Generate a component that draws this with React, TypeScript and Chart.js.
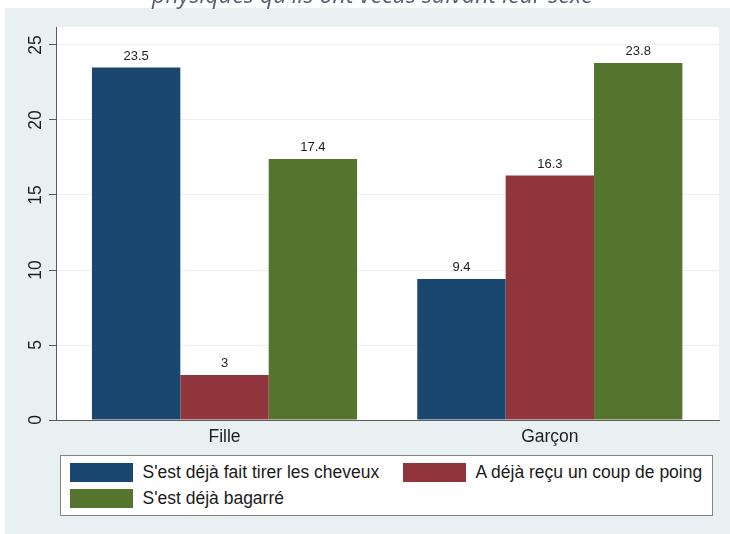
import React, { useEffect, useRef } from "react";
import { Chart, registerables } from "chart.js";

Chart.register(...registerables);

// ---- data ----
const categories = ["Fille", "Garçon"];
const seriesNames = [
  "S'est déjà fait tirer les cheveux",
  "A déjà reçu un coup de poing",
  "S'est déjà bagarré",
];
const cheveux = [23.5, 9.4];
const poing = [3, 16.3];
const bagarre = [17.4, 23.8];
const seriesColors = ["#1a476f", "#90353b", "#55752f"];
const yTicks = [0, 5, 10, 15, 20, 25];
const titleText = "physiques qu'ils ont vécus suivant leur sexe";

const seriesValues = [cheveux, poing, bagarre];
const FONT = '"Liberation Sans", Arial, sans-serif';

const decorPlugin = {
  id: "stataDecor",
  beforeDraw(chart: any) {
    const { ctx, chartArea: a } = chart;
    ctx.save();
    ctx.fillStyle = "#ffffff";
    ctx.fillRect(a.left, a.top, a.right - a.left, a.bottom - a.top);
    ctx.restore();
  },
  afterDatasetsDraw(chart: any) {
    const { ctx } = chart;
    ctx.save();
    ctx.font = `13px ${FONT}`;
    ctx.fillStyle = "#1e1e1e";
    ctx.textAlign = "center";
    ctx.textBaseline = "alphabetic";
    chart.data.datasets.forEach((ds: any, di: number) => {
      const meta = chart.getDatasetMeta(di);
      meta.data.forEach((el: any, i: number) => {
        const v = ds.data[i].y;
        ctx.fillText(String(v), el.x, el.y - 8);
      });
    });
    ctx.restore();
  },
  afterDraw(chart: any) {
    const { ctx, chartArea: a } = chart;
    const y = chart.scales.y;
    const x = chart.scales.x;
    ctx.save();
    // y tick labels, rotated
    ctx.font = `17.5px ${FONT}`;
    ctx.fillStyle = "#1e1e1e";
    ctx.textAlign = "center";
    ctx.textBaseline = "middle";
    y.ticks.forEach((t: any) => {
      const py = y.getPixelForValue(t.value);
      ctx.save();
      ctx.translate(35, py);
      ctx.rotate(-Math.PI / 2);
      ctx.fillText(String(t.value), 0, 1);
      ctx.restore();
    });
    // x category labels
    ctx.textBaseline = "alphabetic";
    categories.forEach((c, i) => {
      ctx.fillText(c, x.getPixelForValue(i), a.bottom + 22);
    });
    // cut title
    ctx.font = `italic 20px "Open Sans", sans-serif`;
    const w = ctx.measureText(titleText).width;
    const size = (20 * 441) / w;
    ctx.font = `italic ${size}px "Open Sans", sans-serif`;
    ctx.fillStyle = "#55606e";
    ctx.textAlign = "left";
    ctx.fillText(titleText, 152, 3);
    ctx.restore();
  },
};

export default function App() {
  const ref = useRef<HTMLCanvasElement>(null);

  useEffect(() => {
    if (!ref.current) return;
    const chart = new Chart(ref.current, {
      type: "bar",
      data: {
        datasets: seriesNames.map((name, si) => ({
          label: name,
          data: categories.map((_, ci) => ({ x: ci, y: seriesValues[si][ci] })),
          backgroundColor: seriesColors[si],
          borderWidth: 0,
          categoryPercentage: 0.815,
          barPercentage: 1,
        })),
      },
      options: {
        responsive: false,
        devicePixelRatio: 1,
        animation: false,
        layout: { padding: { left: 0, top: 27, right: 11, bottom: 0 } },
        plugins: {
          legend: { display: false },
          tooltip: { enabled: false },
          title: { display: false },
        },
        scales: {
          x: {
            type: "linear",
            offset: false,
            min: -0.518,
            max: 1.52,
            afterBuildTicks: (s: any) => {
              s.ticks = categories.map((_, i) => ({ value: i }));
            },
            afterFit: (s: any) => {
              s.height = 30;
            },
            ticks: { display: false },
            grid: { display: false, offset: false },
            border: { display: true, color: "#5a5a5a", width: 1 },
          },
          y: {
            min: 0,
            max: 26.2,
            afterBuildTicks: (s: any) => {
              s.ticks = yTicks.map((v) => ({ value: v }));
            },
            afterFit: (s: any) => {
              s.width = 56;
            },
            ticks: { display: false },
            grid: {
              color: "#eaf0f2",
              lineWidth: 1,
              drawTicks: true,
              tickLength: 7,
              tickColor: "#5a5a5a",
              tickWidth: 1,
            },
            border: { display: true, color: "#5a5a5a", width: 1 },
          },
        },
      } as any,
      plugins: [decorPlugin],
    });
    return () => chart.destroy();
  }, []);

  return (
    <div
      style={{
        position: "fixed",
        left: 0,
        top: 0,
        width: 730,
        height: 534,
        background: "#ffffff",
        overflow: "hidden",
      }}
    >
      <div
        style={{
          position: "absolute",
          left: 5,
          top: 8,
          right: 0,
          bottom: 0,
          background: "#e9f0f2",
        }}
      />
      <canvas
        ref={ref}
        width={730}
        height={450}
        style={{ position: "absolute", left: 0, top: 0, width: 730, height: 450 }}
      />
      <div
        style={{
          position: "absolute",
          left: 60,
          top: 455,
          width: 653,
          height: 61,
          boxSizing: "border-box",
          background: "#ffffff",
          border: "1.5px solid #858585",
          display: "grid",
          gridTemplateColumns: "333px auto",
          gridAutoRows: "26px",
          paddingLeft: 8.5,
          paddingTop: 6.5,
          fontFamily: FONT,
          fontSize: 17.5,
          color: "#1a1a1a",
        }}
      >
        {seriesNames.map((name, i) => (
          <div
            key={name}
            style={{ display: "flex", alignItems: "center", height: 19, whiteSpace: "nowrap" }}
          >
            <div
              style={{
                width: 63,
                height: 19,
                background: seriesColors[i],
                marginRight: 10,
                flex: "none",
              }}
            />
            <span>{name}</span>
          </div>
        ))}
      </div>
    </div>
  );
}
